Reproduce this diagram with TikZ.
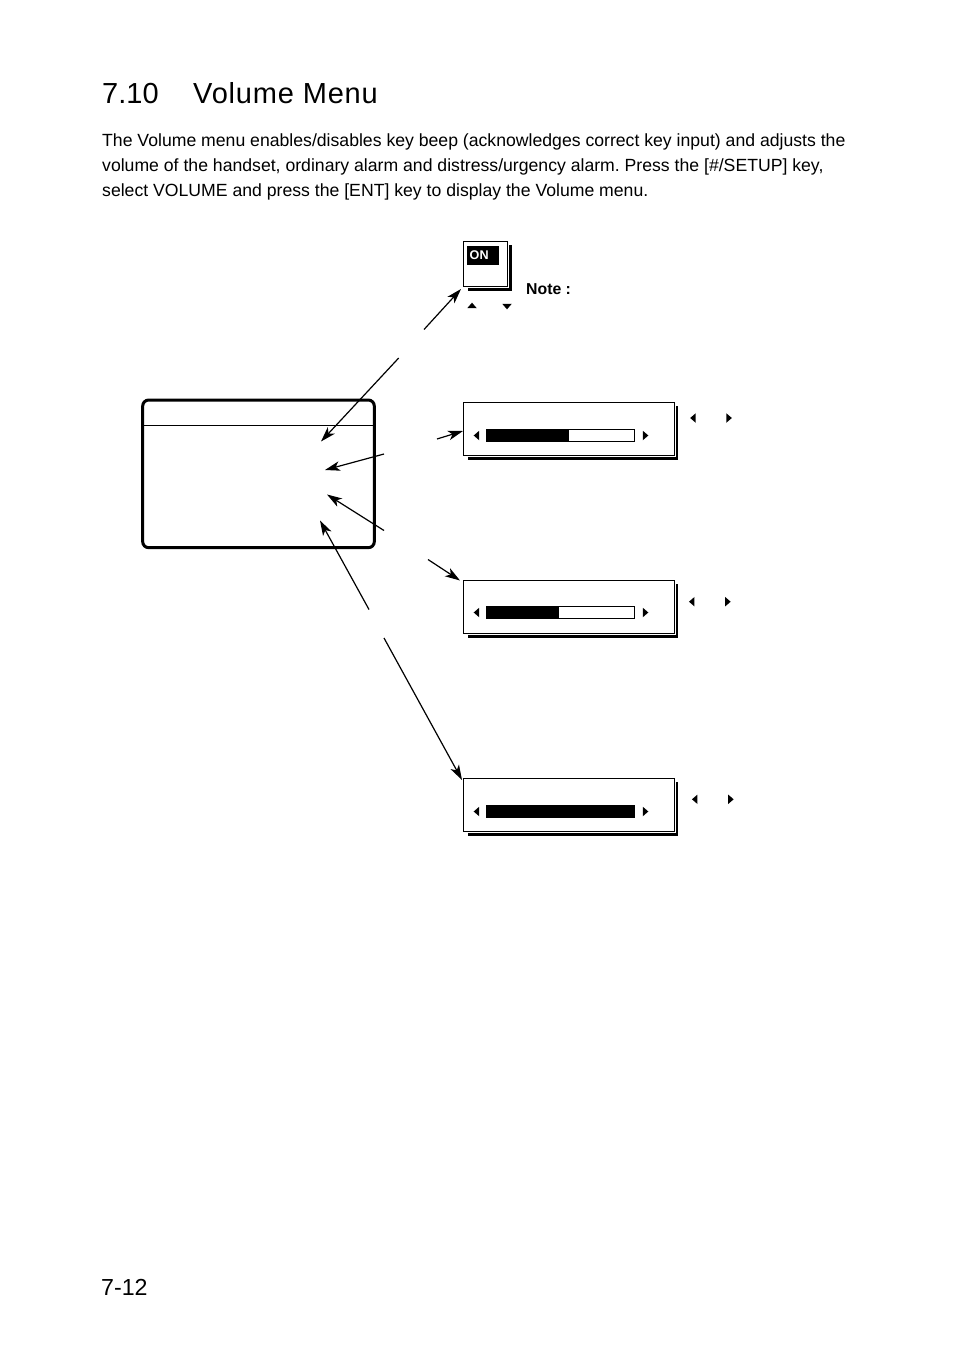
\documentclass[tikz,border=0pt]{standalone}
\usepackage{fontspec}
\setmainfont{Liberation Sans}
\usetikzlibrary{positioning, calc, shapes.geometric, arrows.meta}
\tikzstyle{Arrow} = [
    line width = 1.2pt,
    -{Stealth[length=15pt, width=9.5pt, inset=4pt]}
]

\begin{document}
\begin{tikzpicture}[
x=1pt, y=-1pt,
bodytext/.style={anchor=base west, inner sep=0pt, font=\fontsize{17.64}{20}\selectfont\frenchspacing},
panel/.style={
    rectangle,
    anchor=north west,
    draw,
    fill=white,
    line width=1pt,
    inner sep=0pt,
    outer sep=0pt,
    preaction={draw=white, line width=3.2pt}
    },
shadow/.style={
    rectangle,
    anchor=north west,
    fill=black,
    inner sep=0pt,
    outer sep=0pt
    },
barframe/.style={
    rectangle,
    anchor=north west,
    draw,
    fill=white,
    line width=1pt,
    inner sep=0pt,
    outer sep=0pt,
    minimum width=148.7pt,
    minimum height=12.5pt
    },
barfill/.style={
    rectangle,
    anchor=north west,
    fill=black,
    inner sep=0pt,
    outer sep=0pt,
    minimum height=12.5pt
    },
tip/.style={
    isosceles triangle,
    isosceles triangle stretches,
    fill=black,
    inner sep=0pt,
    outer sep=0pt,
    minimum height=5.5pt,
    minimum width=9.5pt
    }
]

\useasboundingbox (0,0) rectangle (954,1351);

\node [anchor=base west, inner sep=0pt, font=\fontsize{29}{32}\selectfont] (number) at (102,104) {7.10};
\node [anchor=base west, inner sep=0pt, font=\fontsize{29}{32}\selectfont\addfontfeatures{LetterSpace=2.8}] (title) at (193,104) {Volume Menu};

\node [bodytext] (line1) at (102,146.5) {The Volume menu enables/disables key beep (acknowledges correct key input) and adjusts the};
\node [bodytext] (line2) at (102,171.5) {volume of the handset, ordinary alarm and distress/urgency alarm. Press the [\#/SETUP] key,};
\node [bodytext] (line3) at (102,196.5) {select VOLUME and press the [ENT] key to display the Volume menu.};

\node [rectangle, anchor=north west, draw, line width=3pt, rounded corners=6pt, inner sep=0pt, outer sep=0pt, minimum width=231.6pt, minimum height=147.7pt] (menu) at (142.7,400) {};
\draw [line width=1pt] (menu.west |- 0,425.3) -- (menu.east |- 0,425.3);

\node [shadow, minimum width=43.7pt, minimum height=46pt] (onshadow) at (468,245) {};
\node [panel, minimum width=44.4pt, minimum height=45.4pt] (onbox) at (463.3,241.3) {};
\node [shadow, minimum width=32pt, minimum height=19pt] (onmark) at (467,246) {};
\node [font=\fontsize{12.6}{14}\selectfont\bfseries, text=white, inner sep=0pt, anchor=base west] (ontext) at (469.5,259.7) {ON};
\node [tip, shape border rotate=90] (uptip) at (472,306) {};
\node [tip, shape border rotate=270] (downtip) at (507,306) {};
\node [font=\fontsize{15.8}{17}\selectfont\bfseries, inner sep=0pt, anchor=base west] (note) at (526,294.3) {Note :};

\node [shadow, minimum width=209.7pt, minimum height=53.7pt] (shadow1) at (468,406) {};
\node [panel, minimum width=211.2pt, minimum height=53.4pt] (slider1) at (463.3,402.3) {};
\node [barframe] (frame1) at (486,429.2) {};
\node [barfill, minimum width=83pt] (fill1) at (486,429.2) {};
\node [tip, shape border rotate=180] (left1) at (477,435.5) {};
\node [tip, shape border rotate=0] (right1) at (645,435.5) {};
\node [tip, shape border rotate=180] (lefthint1) at (693.5,418) {};
\node [tip, shape border rotate=0] (righthint1) at (728.5,418) {};

\node [shadow, minimum width=209.7pt, minimum height=53.7pt] (shadow2) at (468,584) {};
\node [panel, minimum width=211.2pt, minimum height=53.4pt] (slider2) at (463.3,580.3) {};
\node [barframe] (frame2) at (486,606.2) {};
\node [barfill, minimum width=73pt] (fill2) at (486,606.2) {};
\node [tip, shape border rotate=180] (left2) at (477,612.5) {};
\node [tip, shape border rotate=0] (right2) at (645,612.5) {};
\node [tip, shape border rotate=180] (lefthint2) at (692.3,601.7) {};
\node [tip, shape border rotate=0] (righthint2) at (727.3,601.7) {};

\node [shadow, minimum width=209.7pt, minimum height=53.7pt] (shadow3) at (468,782) {};
\node [panel, minimum width=211.2pt, minimum height=53.4pt] (slider3) at (463.3,778.3) {};
\node [barframe] (frame3) at (486,805.2) {};
\node [barfill, minimum width=148.7pt] (fill3) at (486,805.2) {};
\node [tip, shape border rotate=180] (left3) at (477,811.5) {};
\node [tip, shape border rotate=0] (right3) at (645,811.5) {};
\node [tip, shape border rotate=180] (lefthint3) at (695.3,799.3) {};
\node [tip, shape border rotate=0] (righthint3) at (730.3,799.3) {};

\coordinate (beepfrom) at (424,329.5);
\coordinate (beepto) at (461,289);
\coordinate (handsetfrom) at (437,439);
\coordinate (handsetto) at (463,431);
\coordinate (ordinaryfrom) at (428,559.5);
\coordinate (ordinaryto) at (460,580.5);
\coordinate (distressfrom) at (384,638);
\coordinate (distressto) at (462,780);
\coordinate (row1from) at (398.7,358);
\coordinate (row1to) at (321,441.5);
\coordinate (row2from) at (384,454);
\coordinate (row2to) at (325,470);
\coordinate (row3from) at (384,530.5);
\coordinate (row3to) at (327,494.5);
\coordinate (row4from) at (369,609.5);
\coordinate (row4to) at (320,520.5);

\draw[Arrow] (beepfrom) -- (beepto);
\draw[Arrow] (handsetfrom) -- (handsetto);
\draw[Arrow] (ordinaryfrom) -- (ordinaryto);
\draw[Arrow] (distressfrom) -- (distressto);
\draw[Arrow] (row1from) -- (row1to);
\draw[Arrow] (row2from) -- (row2to);
\draw[Arrow] (row3from) -- (row3to);
\draw[Arrow] (row4from) -- (row4to);

\node [anchor=base west, inner sep=0pt, font=\fontsize{23.2}{28}\selectfont] (page) at (101,1295) {7-12};

\end{tikzpicture}
\end{document}
